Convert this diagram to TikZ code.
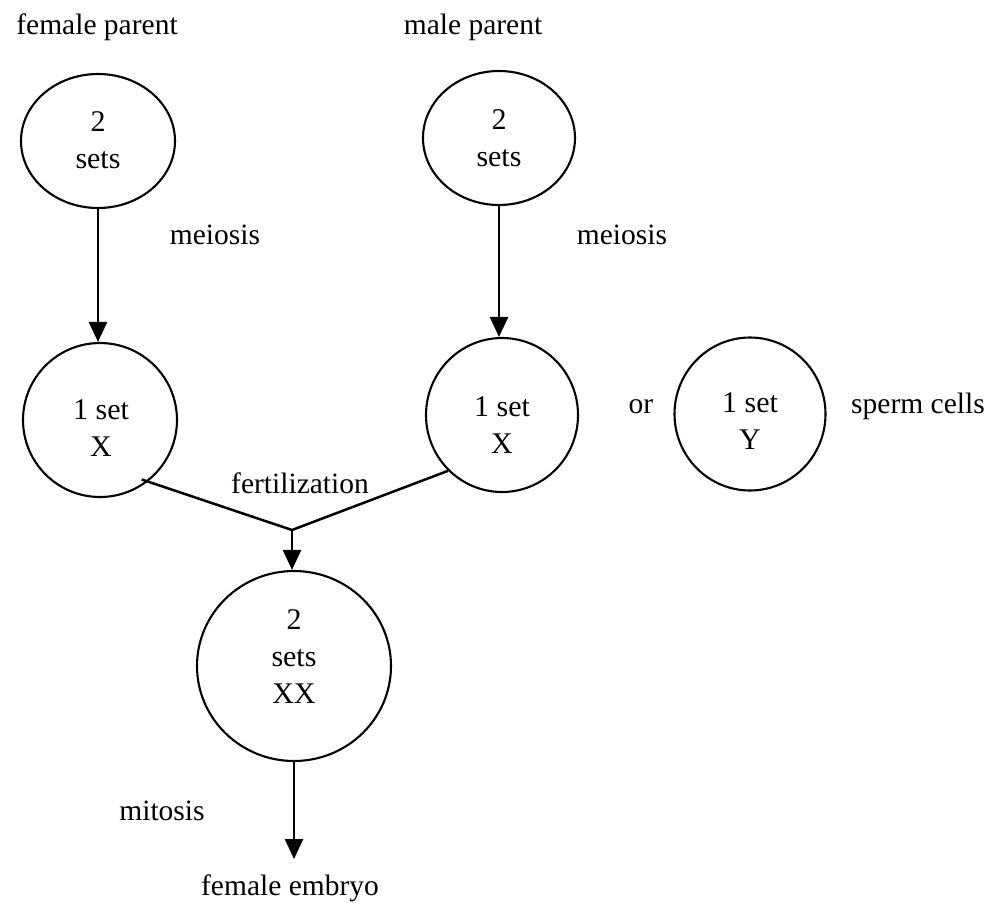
\documentclass[tikz,border=0pt]{standalone}
\usepackage{fontspec}
\setmainfont{Liberation Serif}
\usetikzlibrary{shapes.geometric,arrows.meta,calc}
\begin{document}
\begin{tikzpicture}[x=1pt,y=-1pt,
  cell/.style={draw,ellipse,line width=2.1pt,inner sep=0pt},
  celltext/.style={align=center,inner sep=0pt,font=\fontsize{30}{37}\selectfont},
  lbl/.style={font=\fontsize{29.5}{35}\selectfont,inner sep=0pt},
  flow/.style={line width=2.5pt,-{Triangle[length=20pt,width=18pt]}},
  joinline/.style={line width=2.5pt}]
\useasboundingbox (0,0) rectangle (998,905);
% cells
\node[cell,minimum width=154pt,minimum height=134pt] (fp) at (98,141) {};
\node[cell,minimum width=152pt,minimum height=134pt] (mp) at (499,138) {};
\node[cell,minimum width=154pt,minimum height=154pt] (fx) at (100,420) {};
\node[cell,minimum width=152pt,minimum height=154pt] (mx) at (502,415) {};
\node[cell,minimum width=151pt,minimum height=153pt] (my) at (750,414) {};
\node[cell,minimum width=194pt,minimum height=190pt] (emb) at (294,666) {};
% cell contents
\node[celltext] (fpt) at (98,140) {2\\sets};
\node[celltext] (mpt) at (499,138) {2\\sets};
\node[celltext] (fxt) at (101,428) {1 set\\X};
\node[celltext] (mxt) at (502,425) {1 set\\X};
\node[celltext] (myt) at (750,421) {1 set\\Y};
\node[celltext] (embt) at (294,657) {2\\sets\\XX};
% labels
\node[lbl,anchor=base] (lfp) at (97,34) {female parent};
\node[lbl,anchor=base] (lmp) at (473,34) {male parent};
\node[lbl] (lm1) at (215,235) {meiosis};
\node[lbl] (lm2) at (622,235) {meiosis};
\node[lbl] (lfert) at (300,483) {fertilization};
\node[lbl,anchor=base] (lor) at (641,413) {or};
\node[lbl,anchor=base] (lsp) at (918,413) {sperm cells};
\node[lbl,anchor=base] (lmit) at (162,820) {mitosis};
\node[lbl,anchor=base] (lfe) at (290,895) {female embryo};
% connectors
\coordinate (j) at (292,530);
\coordinate (tip) at (294,859);
\draw[flow] (fp.south) -- (fp.south |- fx.north);
\draw[flow] (mp.south) -- (mp.south |- mx.north);
\draw[joinline] ($(fx.center)!0.93!(fx.-55)$) -- (j) -- (mx.-134);
\draw[flow] (j) -- (j |- emb.north);
\draw[flow] (emb.south) -- (emb.south |- tip);
\end{tikzpicture}
\end{document}
